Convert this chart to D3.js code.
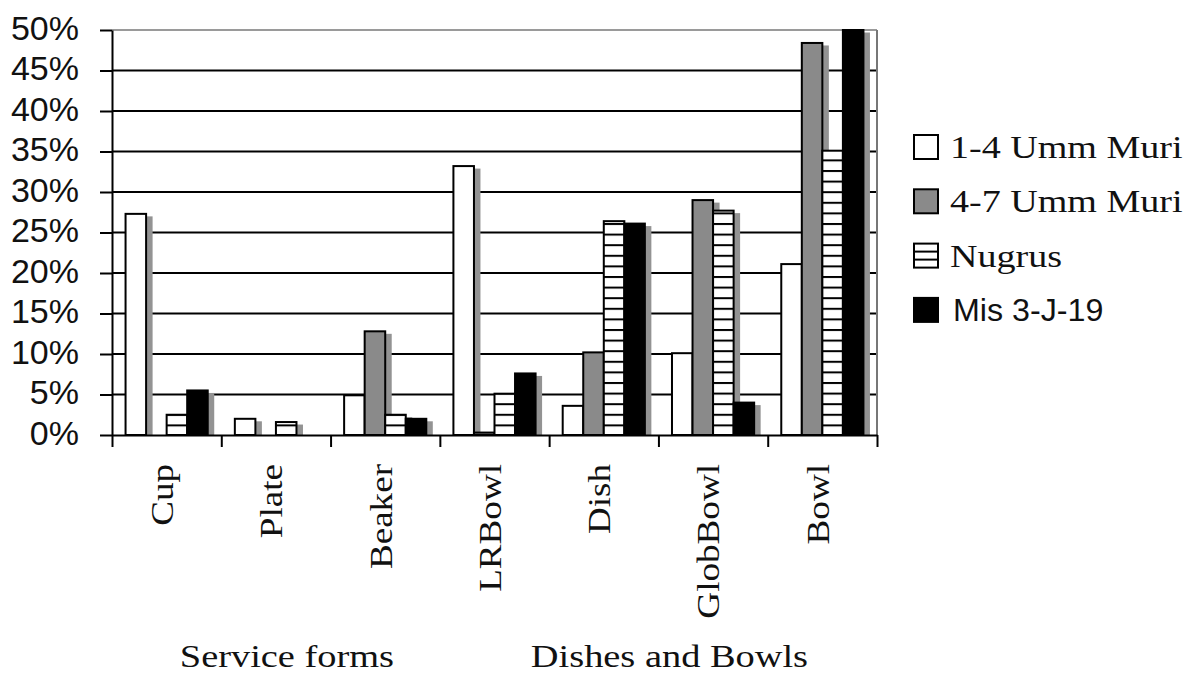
<!DOCTYPE html>
<html>
<head>
<meta charset="utf-8">
<script src="https://cdn.jsdelivr.net/npm/d3@7"></script>
<style>
  html, body { margin: 0; padding: 0; background: #fff; }
  svg { display: block; }
</style>
</head>
<body>
<svg id="chart" width="1194" height="673"></svg>
<script>
// ---- data (percent of assemblage) ----
const categories = ["Cup", "Plate", "Beaker", "LRBowl", "Dish", "GlobBowl", "Bowl"];
const seriesNames = ["1-4 Umm Muri", "4-7 Umm Muri", "Nugrus", "Mis 3-J-19"];
const umm14   = [27.3, 2.0, 4.9, 33.2, 3.6, 10.1, 21.1];
const umm47   = [0, 0, 12.8, 0.3, 10.2, 29.0, 48.4];
const nugrus  = [2.5, 1.6, 2.5, 5.1, 26.4, 27.7, 35.1];
const mis3j19 = [5.5, 0, 2.0, 7.6, 26.1, 4.0, 50.0];
const yTicks = [0, 5, 10, 15, 20, 25, 30, 35, 40, 45, 50];
const groupNames = ["Service forms", "Dishes and Bowls"];
const groupMembers = [["Cup", "Plate", "Beaker"], ["LRBowl", "Dish", "GlobBowl", "Bowl"]];

const seriesValues = [umm14, umm47, nugrus, mis3j19];

// ---- layout & styles ----
const plot = { left: 112, right: 877, top: 30, bottom: 435 };
const serif = "'Liberation Serif', 'Times New Roman', serif";
const sans = "'Liberation Sans', Arial, sans-serif";
const barFill = ["#ffffff", "#8a8a8a", "url(#hatch)", "#000000"];
const shadowColor = "#939393";
const shadowDx = 6.5, shadowDy = 2.5;

const svg = d3.select("#chart");

const x = d3.scaleBand().domain(categories).range([plot.left, plot.right]).padding(0);
const xEdge = d3.scaleLinear().domain([0, categories.length]).range([plot.left, plot.right]);
const xs = d3.scaleBand().domain(seriesNames).range([0, x.bandwidth()])
  .paddingInner(0).paddingOuter(0.66);
const y = d3.scaleLinear().domain([0, 50]).range([plot.bottom, plot.top]);

// horizontal-stripe fill for the Nugrus series
const defs = svg.append("defs");
const stripe = 10.6;
const pat = defs.append("pattern").attr("id", "hatch")
  .attr("patternUnits", "userSpaceOnUse")
  .attr("x", 0).attr("y", y(0))
  .attr("width", 10).attr("height", stripe);
pat.append("rect").attr("width", 10).attr("height", stripe).attr("fill", "#fff");
pat.append("rect").attr("width", 10).attr("height", 2).attr("fill", "#000");

// gridlines
svg.append("g").selectAll("line")
  .data(yTicks.filter(t => t > 0 && t < 50))
  .join("line")
  .attr("x1", plot.left).attr("x2", plot.right)
  .attr("y1", d => y(d)).attr("y2", d => y(d))
  .attr("stroke", "#000").attr("stroke-width", 2);

// plot-area border (top and right)
svg.append("line")
  .attr("x1", plot.left).attr("x2", plot.right)
  .attr("y1", y(50)).attr("y2", y(50))
  .attr("stroke", "#9a9a9a").attr("stroke-width", 2);
svg.append("line")
  .attr("x1", plot.right).attr("x2", plot.right)
  .attr("y1", y(50)).attr("y2", y(0))
  .attr("stroke", "#777").attr("stroke-width", 2);

// bars with drop shadows
const barData = [];
categories.forEach((c, ci) => {
  seriesNames.forEach((s, si) => {
    const v = seriesValues[si][ci];
    if (v > 0) barData.push({ c, s, si, v });
  });
});
const bars = svg.append("g");
barData.forEach(d => {
  const bx = x(d.c) + xs(d.s);
  const bw = xs.bandwidth();
  const top = y(d.v);
  bars.append("rect")
    .attr("x", bx + shadowDx).attr("y", top + shadowDy)
    .attr("width", bw).attr("height", Math.max(0, y(0) - top - shadowDy))
    .attr("fill", shadowColor);
  bars.append("rect")
    .attr("x", bx).attr("y", top)
    .attr("width", bw).attr("height", y(0) - top)
    .attr("fill", barFill[d.si])
    .attr("stroke", "#000").attr("stroke-width", 2);
});

// y axis
const yAxis = svg.append("g")
  .attr("transform", `translate(${plot.left},0)`)
  .call(d3.axisLeft(y).tickValues(yTicks).tickSize(12).tickSizeOuter(0)
    .tickPadding(21).tickFormat(d => d + "%"));
yAxis.select(".domain").attr("stroke", "#000").attr("stroke-width", 2);
yAxis.selectAll(".tick line").attr("stroke", "#000").attr("stroke-width", 2);
yAxis.selectAll(".tick text")
  .attr("font-family", sans).attr("font-size", 34).attr("fill", "#111")
  .attr("dy", "0.27em");

// x axis (ticks on category boundaries)
const xAxis = svg.append("g")
  .attr("transform", `translate(0,${plot.bottom})`)
  .call(d3.axisBottom(xEdge).tickValues(d3.range(0, categories.length + 1))
    .tickSize(12).tickSizeOuter(0).tickFormat(""));
xAxis.select(".domain").attr("stroke", "#000").attr("stroke-width", 2);
xAxis.selectAll(".tick line").attr("stroke", "#000").attr("stroke-width", 2);

// rotated category labels
svg.append("g").selectAll("text")
  .data(categories)
  .join("text")
  .attr("transform", d => `translate(${x(d) + x.bandwidth() / 2},464) rotate(-90) scale(1.16,1)`)
  .attr("text-anchor", "end")
  .attr("dy", "0.2em")
  .attr("font-family", serif).attr("font-size", 32).attr("fill", "#111")
  .text(d => d);

// group labels below the categories
svg.append("g").selectAll("text")
  .data(groupNames)
  .join("text")
  .attr("transform", (d, i) => {
    const m = groupMembers[i];
    const cx = (x(m[0]) + x(m[m.length - 1]) + x.bandwidth()) / 2 + 11;
    return `translate(${cx},667) scale(1.2,1)`;
  })
  .attr("text-anchor", "middle")
  .attr("font-family", serif).attr("font-size", 32).attr("fill", "#111")
  .text(d => d);

// legend
const legend = svg.append("g").attr("transform", "translate(913,147)");
seriesNames.forEach((s, i) => {
  const row = legend.append("g").attr("transform", `translate(0,${i * 54.3})`);
  row.append("rect")
    .attr("x", 1).attr("y", -12).attr("width", 24).attr("height", 24)
    .attr("fill", i === 2 ? "#fff" : barFill[i])
    .attr("stroke", "#000").attr("stroke-width", 2);
  if (i === 2) {
    [-4, 4].forEach(o => row.append("line")
      .attr("x1", 1).attr("x2", 25).attr("y1", o).attr("y2", o)
      .attr("stroke", "#000").attr("stroke-width", 2));
  }
  const isSans = i === 3;
  row.append("text")
    .attr("transform", `translate(${isSans ? 40 : 37},11) scale(${isSans ? 1.04 : 1.19},1)`)
    .attr("font-family", isSans ? sans : serif)
    .attr("font-size", isSans ? 31 : 32)
    .attr("fill", "#111")
    .text(s);
});
</script>
</body>
</html>
